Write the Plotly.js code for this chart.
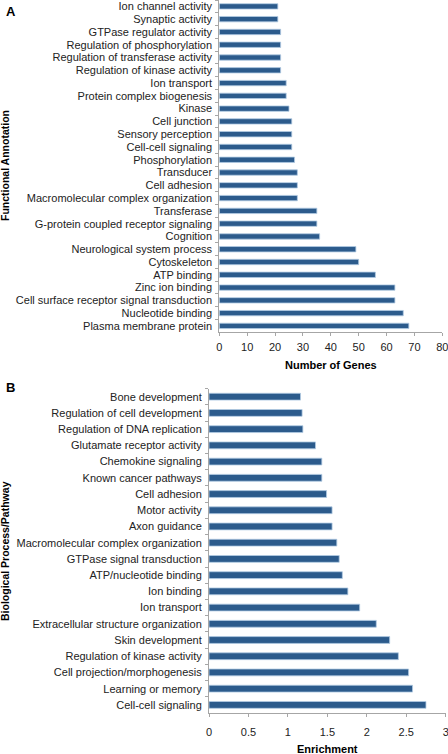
<!DOCTYPE html>
<html>
<head>
<meta charset="utf-8">
<script src="https://cdn.plot.ly/plotly-3.0.1.min.js"></script>
<style>
  html, body { margin: 0; padding: 0; background: #ffffff; }
  #chart { width: 448px; height: 754px; }
</style>
</head>
<body>
<div id="chart"></div>
<script>
// Panel A: functional annotation (top to bottom)
const categoriesA = [
  "Ion channel activity", "Synaptic activity", "GTPase regulator activity",
  "Regulation of phosphorylation", "Regulation of transferase activity",
  "Regulation of kinase activity", "Ion transport", "Protein complex biogenesis",
  "Kinase", "Cell junction", "Sensory perception", "Cell-cell signaling",
  "Phosphorylation", "Transducer", "Cell adhesion",
  "Macromolecular complex organization", "Transferase",
  "G-protein coupled receptor signaling", "Cognition",
  "Neurological system process", "Cytoskeleton", "ATP binding",
  "Zinc ion binding", "Cell surface receptor signal transduction",
  "Nucleotide binding", "Plasma membrane protein"
];
const genesA = [21, 21, 22, 22, 22, 22, 24, 24, 25, 26, 26, 26, 27, 28, 28, 28,
                35, 35, 36, 49, 50, 56, 63, 63, 66, 68];

// Panel B: biological process / pathway (top to bottom)
const categoriesB = [
  "Bone development", "Regulation of cell development", "Regulation of DNA replication",
  "Glutamate receptor activity", "Chemokine signaling", "Known cancer pathways",
  "Cell adhesion", "Motor activity", "Axon guidance",
  "Macromolecular complex organization", "GTPase signal transduction",
  "ATP/nucleotide binding", "Ion binding", "Ion transport",
  "Extracellular structure organization", "Skin development",
  "Regulation of kinase activity", "Cell projection/morphogenesis",
  "Learning or memory", "Cell-cell signaling"
];
const enrichmentB = [1.16, 1.18, 1.19, 1.35, 1.43, 1.43, 1.49, 1.56, 1.56, 1.62,
                     1.65, 1.69, 1.76, 1.91, 2.12, 2.29, 2.40, 2.53, 2.58, 2.75];

const W = 448, H = 754;
const FONT = "Liberation Sans, Arial, sans-serif";
const BAR = "#2c5b8c";
const EDGE = "#b3cbe3";
const AXIS = "#a6a6a6";

const traceA = {
  type: "bar", orientation: "h",
  y: categoriesA, x: genesA,
  xaxis: "x", yaxis: "y",
  width: 0.42,
  marker: { color: BAR, line: { color: EDGE, width: 0.8 } },
  hoverinfo: "x+y"
};
const traceB = {
  type: "bar", orientation: "h",
  y: categoriesB, x: enrichmentB,
  xaxis: "x2", yaxis: "y2",
  width: 0.42,
  marker: { color: BAR, line: { color: EDGE, width: 0.8 } },
  hoverinfo: "x+y"
};

function px2x(p) { return p / W; }
function px2y(p) { return 1 - p / H; }

const commonX = {
  showgrid: false, zeroline: false, showline: true, linecolor: AXIS, linewidth: 1,
  ticks: "outside", ticklen: 3, tickcolor: AXIS, tickwidth: 1,
  tickmode: "linear", tick0: 0,
  ticklabeloverflow: "allow",
  automargin: false,
  tickfont: { family: FONT, size: 11, color: "#222" },
  fixedrange: true
};
const commonY = {
  type: "category", autorange: "reversed",
  showgrid: false, zeroline: false, showline: true, linecolor: AXIS, linewidth: 1,
  ticks: "outside", ticklen: 3, tickcolor: AXIS, tickwidth: 1, tickson: "boundaries",
  tickmode: "linear", tick0: 0, dtick: 1,
  ticklabeloverflow: "allow",
  automargin: false,
  tickfont: { family: FONT, size: 11, color: "#222" },
  ticklabelstandoff: 4,
  fixedrange: true
};

const layout = {
  width: W, height: H,
  margin: { l: 0, r: 0, t: 0, b: 0, pad: 0 },
  paper_bgcolor: "#ffffff", plot_bgcolor: "#ffffff",
  showlegend: false,
  xaxis: Object.assign({}, commonX, {
    domain: [px2x(219.3), px2x(442.3)], range: [0, 80], autorange: false, dtick: 10,
    anchor: "y", ticklabelstandoff: 1
  }),
  yaxis: Object.assign({}, commonY, {
    domain: [px2y(332.3), px2y(0)], anchor: "x"
  }),
  xaxis2: Object.assign({}, commonX, {
    domain: [px2x(209), px2x(445.7)], range: [0, 3], autorange: false, dtick: 0.5,
    anchor: "y2", ticklabelstandoff: 6
  }),
  yaxis2: Object.assign({}, commonY, {
    domain: [px2y(713), px2y(388.6)], anchor: "x2"
  }),
  annotations: [
    { text: "<b>A</b>", xref: "paper", yref: "paper", x: px2x(10.5), y: px2y(12),
      xanchor: "center", yanchor: "middle", showarrow: false,
      font: { family: FONT, size: 13, color: "#000" } },
    { text: "<b>B</b>", xref: "paper", yref: "paper", x: px2x(10.5), y: px2y(387.5),
      xanchor: "center", yanchor: "middle", showarrow: false,
      font: { family: FONT, size: 13, color: "#000" } },
    { text: "<b>Number of Genes</b>", xref: "paper", yref: "paper",
      x: px2x(330.8), y: px2y(365), xanchor: "center", yanchor: "middle", showarrow: false,
      font: { family: FONT, size: 11, color: "#000" } },
    { text: "<b>Enrichment</b>", xref: "paper", yref: "paper",
      x: px2x(327.4), y: px2y(749), xanchor: "center", yanchor: "middle", showarrow: false,
      font: { family: FONT, size: 11, color: "#000" } },
    { text: "<b>Functional Annotation</b>", xref: "paper", yref: "paper",
      x: px2x(5), y: px2y(166), xanchor: "center", yanchor: "middle", showarrow: false,
      textangle: -90, font: { family: FONT, size: 10.5, color: "#000" } },
    { text: "<b>Biological Process/Pathway</b>", xref: "paper", yref: "paper",
      x: px2x(5), y: px2y(551), xanchor: "center", yanchor: "middle", showarrow: false,
      textangle: -90, font: { family: FONT, size: 10.5, color: "#000" } }
  ]
};

Plotly.newPlot("chart", [traceA, traceB], layout, { displayModeBar: false, staticPlot: true });
</script>
</body>
</html>
